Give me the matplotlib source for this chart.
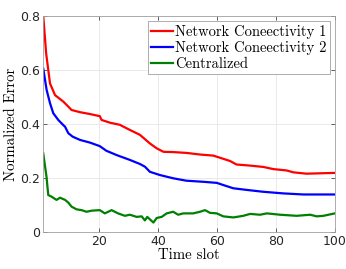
import matplotlib
matplotlib.use("Agg")
import matplotlib.pyplot as plt

x_net1 = [1, 2, 3.3, 5, 7.8, 9, 10.6, 13.4, 16.8, 20.2, 20.8, 23.6, 27, 30.4, 33.8, 37.2, 39.5,
          41.8, 45.1, 49.6, 54.2, 58.7, 61, 64.4, 66.6, 71.2, 75.7, 79.1, 83.6, 85.9, 90.4, 100]
y_net1 = [0.80, 0.66, 0.55, 0.507, 0.483, 0.47, 0.452, 0.444, 0.437, 0.429, 0.415, 0.405, 0.397,
          0.378, 0.36, 0.328, 0.31, 0.297, 0.296, 0.293, 0.287, 0.283, 0.275, 0.263, 0.25, 0.246,
          0.241, 0.233, 0.228, 0.221, 0.216, 0.219]

x_net2 = [1, 2.15, 3.3, 4.4, 6.1, 7.8, 8.4, 9.5, 11, 13.5, 16.9, 20.2, 22.4, 25.9, 30.4, 33.8,
          35.5, 37.2, 40.6, 45.1, 49.6, 55.3, 59.9, 62.1, 65.5, 70, 75.7, 82.5, 89.3, 100]
y_net2 = [0.605, 0.526, 0.477, 0.44, 0.415, 0.396, 0.39, 0.366, 0.353, 0.341, 0.331, 0.318, 0.301,
          0.285, 0.267, 0.252, 0.242, 0.223, 0.211, 0.199, 0.19, 0.186, 0.182, 0.174, 0.162, 0.156,
          0.149, 0.143, 0.139, 0.139]

x_cent = [1, 2.1, 2.7, 3.8, 5.5, 6.7, 8.4, 9.5, 10.6, 12.3, 14, 15.7, 17.4, 20.2, 21.9, 24.2, 26.4,
          28.7, 30.4, 32.7, 34.4, 35.5, 36.3, 37.2, 38.4, 39.5, 41.2, 42.9, 45.1, 46.8, 48.5, 51.9,
          54.2, 55.9, 57.6, 59.9, 62.1, 65.5, 68.9, 71.2, 74.6, 76.9, 81.4, 87, 91.6, 93.8, 96.1,
          97.8, 100]
y_cent = [0.291, 0.205, 0.137, 0.131, 0.119, 0.127, 0.119, 0.109, 0.094, 0.084, 0.081, 0.075, 0.079,
          0.081, 0.069, 0.081, 0.069, 0.06, 0.064, 0.056, 0.058, 0.043, 0.056, 0.047, 0.035, 0.052,
          0.056, 0.069, 0.075, 0.064, 0.069, 0.069, 0.075, 0.081, 0.071, 0.069, 0.058, 0.054, 0.06,
          0.067, 0.064, 0.069, 0.064, 0.06, 0.064, 0.058, 0.06, 0.064, 0.069]

labels = ["Network Coneectivity 1", "Network Coneectivity 2", "Centralized"]

plt.rcParams['font.family'] = 'DejaVu Sans'
plt.rcParams['axes.unicode_minus'] = False

fig = plt.figure(figsize=(3.46, 2.69), dpi=100)
ax = fig.add_axes([0.125, 0.1375, 0.843, 0.803])

ax.plot(x_net1, y_net1, color='#ff0000', lw=1.6, label=labels[0])
ax.plot(x_net2, y_net2, color='#0000ff', lw=1.6, label=labels[1])
ax.plot(x_cent, y_cent, color='#008000', lw=1.6, label=labels[2])

ax.set_xlim(1, 100)
ax.set_ylim(0, 0.8)
ax.set_xticks([20, 40, 60, 80, 100])
ax.set_yticks([0, 0.2, 0.4, 0.6, 0.8])
ax.set_yticklabels(['0', '0.2', '0.4', '0.6', '0.8'])
ax.tick_params(direction='in', length=3, width=0.5, labelsize=9, colors='#262626',
               top=True, right=True, pad=2)
ax.grid(True, color='#e6e6e6', lw=0.6)
ax.set_axisbelow(True)
for s in ax.spines.values():
    s.set_color('#a0a0a0')
    s.set_linewidth(0.6)

ax.set_xlabel('Time slot', fontfamily='cmr10', fontsize=10.7, labelpad=0)
ax.set_ylabel('Normalized Error', fontfamily='cmr10', fontsize=10.7, labelpad=2)

leg = ax.legend(loc='upper right', prop={'family': 'cmr10', 'size': 10.5}, handlelength=1.5,
                handletextpad=0.1, borderpad=0.25, labelspacing=0.15, fancybox=False,
                framealpha=1, borderaxespad=0.35)
leg.get_frame().set_edgecolor('#a0a0a0')
leg.get_frame().set_linewidth(0.6)

fig.savefig('out.png', dpi=100)
